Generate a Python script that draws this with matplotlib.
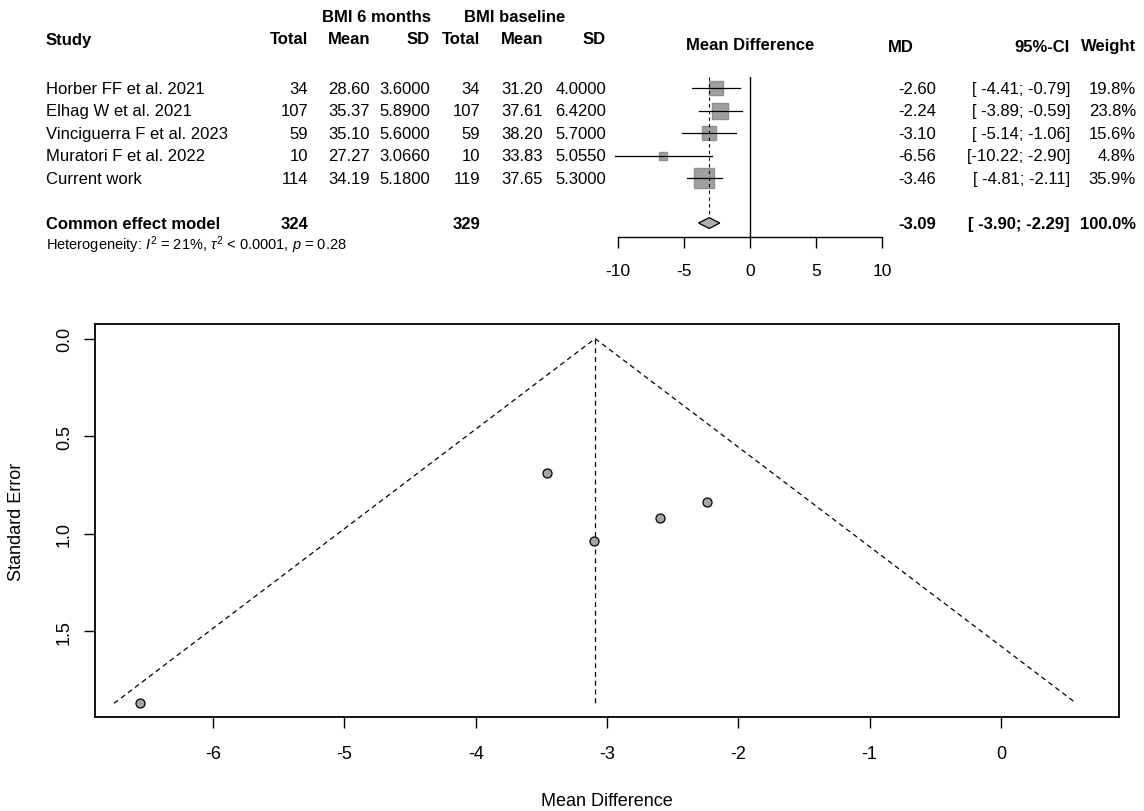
import numpy as np
import matplotlib
matplotlib.use("Agg")
import matplotlib.pyplot as plt
from matplotlib.patches import Polygon
from matplotlib.transforms import blended_transform_factory

plt.rcParams['font.family'] = ['Liberation Sans', 'DejaVu Sans']
plt.rcParams['mathtext.fontset'] = 'custom'
plt.rcParams['mathtext.rm'] = 'Liberation Sans'
plt.rcParams['mathtext.it'] = 'Liberation Sans:italic'

# data
studies = ["Horber FF et al. 2021", "Elhag W et al. 2021", "Vinciguerra F et al. 2023",
           "Muratori F et al. 2022", "Current work"]
n_6m = [34, 107, 59, 10, 114]
mean_6m = [28.60, 35.37, 35.10, 27.27, 34.19]
sd_6m = [3.6000, 5.8900, 5.6000, 3.0660, 5.1800]
n_base = [34, 107, 59, 10, 119]
mean_base = [31.20, 37.61, 38.20, 33.83, 37.65]
sd_base = [4.0000, 6.4200, 5.7000, 5.0550, 5.3000]
md = [-2.60, -2.24, -3.10, -6.56, -3.46]
ci_low = [-4.41, -3.89, -5.14, -10.22, -4.81]
ci_high = [-0.79, -0.59, -1.06, -2.90, -2.11]
weight = [19.8, 23.8, 15.6, 4.8, 35.9]
se = [0.92, 0.84, 1.04, 1.87, 0.69]
pooled_md, pooled_low, pooled_high = -3.09, -3.90, -2.29
total_6m, total_base = 324, 329
forest_ticks = [-10, -5, 0, 5, 10]
funnel_xticks = [-6, -5, -4, -3, -2, -1, 0]
funnel_yticks = [0.0, 0.5, 1.0, 1.5]

W, H = 1144, 812
fig = plt.figure(figsize=(W / 100, H / 100), dpi=100)


def px_axes(l, t, r, b):
    return fig.add_axes([l / W, 1 - b / H, (r - l) / W, (b - t) / H])


# full figure axes in pixels, used for text placement
ax_t = px_axes(0, 0, W, H)
ax_t.set_xlim(0, W)
ax_t.set_ylim(H, 0)
ax_t.axis('off')

# ---- forest plot ----
ax_f = px_axes(618, 78, 882, 238)
ax_f.set_xlim(-10, 10)
ax_f.set_ylim(6.62, -0.49)
rows = np.arange(len(studies))
sum_row = len(studies) + 1

for i in rows:
    ax_f.plot([ci_low[i], ci_high[i]], [i, i], color='black', lw=0.9, zorder=3, clip_on=False)
    ax_f.plot(md[i], i, marker='s', ms=2.4 * np.sqrt(weight[i]), mfc='#a0a0a0', mec='#909090',
              zorder=2, clip_on=False)
dia = Polygon([(pooled_low, sum_row), (pooled_md, sum_row - 0.24), (pooled_high, sum_row),
               (pooled_md, sum_row + 0.24)], closed=True, fc='#b0b0b0', ec='black', lw=0.9, zorder=3)
ax_f.add_patch(dia)
ax_f.axvline(0, color='black', lw=1)
ax_f.plot([pooled_md, pooled_md], [-0.49, sum_row - 0.24], color='black', lw=0.8, ls=(0, (3, 3)))

for s in ['top', 'left', 'right']:
    ax_f.spines[s].set_visible(False)
ax_f.spines['bottom'].set_bounds(-10, 10)
ax_f.spines['bottom'].set_linewidth(1)
ax_f.set_yticks([])
ax_f.set_xticks(forest_ticks)
ax_f.set_xticklabels([str(t) for t in forest_ticks])
ax_f.tick_params(axis='x', direction='out', length=8, width=1, pad=11, labelsize=12.5)
ax_f.patch.set_alpha(0)

# table text: x in pixels, y in forest rows
tr = blended_transform_factory(ax_t.transData, ax_f.transData)
fs = 12


def cell(x, y, s, ha='right', bold=False, size=fs):
    ax_t.text(x, y, s, transform=tr, ha=ha, va='center', fontsize=size,
              fontweight='bold' if bold else 'normal')


def ci_text(lo, hi):
    return f"[{lo:.2f}; {hi:.2f}]" if lo <= -10 else f"[ {lo:.2f}; {hi:.2f}]"


col_x = dict(study=46, n1=308, m1=370, s1=430, n2=480, m2=543, s2=606,
             md=936, ci=1070, w=1136)

for i in rows:
    cell(col_x['study'], i, studies[i], ha='left')
    cell(col_x['n1'], i, str(n_6m[i]))
    cell(col_x['m1'], i, f"{mean_6m[i]:.2f}")
    cell(col_x['s1'], i, f"{sd_6m[i]:.4f}")
    cell(col_x['n2'], i, str(n_base[i]))
    cell(col_x['m2'], i, f"{mean_base[i]:.2f}")
    cell(col_x['s2'], i, f"{sd_base[i]:.4f}")
    cell(col_x['md'], i, f"{md[i]:.2f}")
    cell(col_x['ci'], i, ci_text(ci_low[i], ci_high[i]))
    cell(col_x['w'], i, f"{weight[i]:.1f}%")

cell(col_x['study'], sum_row, "Common effect model", ha='left', bold=True)
cell(col_x['n1'], sum_row, str(total_6m), bold=True)
cell(col_x['n2'], sum_row, str(total_base), bold=True)
cell(col_x['md'], sum_row, f"{pooled_md:.2f}", bold=True)
cell(col_x['ci'], sum_row, ci_text(pooled_low, pooled_high), bold=True)
cell(col_x['w'], sum_row, "100.0%", bold=True)
cell(col_x['study'], sum_row + 0.95,
     r"Heterogeneity: $I^2$ = 21%, $\tau^2$ < 0.0001, $p$ = 0.28", ha='left', size=10.5)

# headers (pixel coordinates)
hdr = dict(va='center', fontsize=fs, fontweight='bold')
ax_t.text(col_x['study'], 40, "Study", ha='left', **hdr)
ax_t.text(376, 18, "BMI 6 months", ha='center', **hdr)
ax_t.text(515, 18, "BMI baseline", ha='center', **hdr)
for key, lab in [('n1', 'Total'), ('m1', 'Mean'), ('s1', 'SD'),
                 ('n2', 'Total'), ('m2', 'Mean'), ('s2', 'SD')]:
    ax_t.text(col_x[key], 40, lab, ha='right', **hdr)
ax_t.text(750, 45, "Mean Difference", ha='center', **hdr)
ax_t.text(888, 47, "MD", ha='left', **hdr)
ax_t.text(col_x['ci'], 47, "95%-CI", ha='right', **hdr)
ax_t.text(col_x['w'], 47, "Weight", ha='right', **hdr)

# ---- funnel plot ----
ax_p = px_axes(95, 325, 1119, 718)
ax_p.set_xlim(-6.9, 0.9)
ax_p.set_ylim(1.94, -0.075)
se_max = max(se)
ax_p.plot([pooled_md - 1.96 * se_max, pooled_md, pooled_md + 1.96 * se_max],
          [se_max, 0, se_max], color='black', lw=0.9, ls=(0, (4, 3)))
ax_p.plot([pooled_md, pooled_md], [0, se_max], color='black', lw=0.9, ls=(0, (4, 3)))
ax_p.scatter(md, se, s=42, facecolor='#a4a4a4', edgecolor='black', linewidth=0.9, zorder=3)

ax_p.set_xticks(funnel_xticks)
ax_p.set_xticklabels([str(t) for t in funnel_xticks])
ax_p.set_yticks(funnel_yticks)
ax_p.set_yticklabels([f"{t:.1f}" for t in funnel_yticks], rotation=90, va='center')
ax_p.tick_params(direction='out', length=8, width=1, labelsize=13)
ax_p.tick_params(axis='x', pad=12)
ax_p.tick_params(axis='y', pad=8)
for s in ax_p.spines.values():
    s.set_linewidth(1.3)
ax_p.set_xlabel("Mean Difference", fontsize=13)
ax_p.set_ylabel("Standard Error", fontsize=13)
ax_p.xaxis.set_label_coords(0.5, -0.19)
ax_p.yaxis.set_label_coords(-0.068, 0.5)

fig.savefig("out.png", dpi=100)
